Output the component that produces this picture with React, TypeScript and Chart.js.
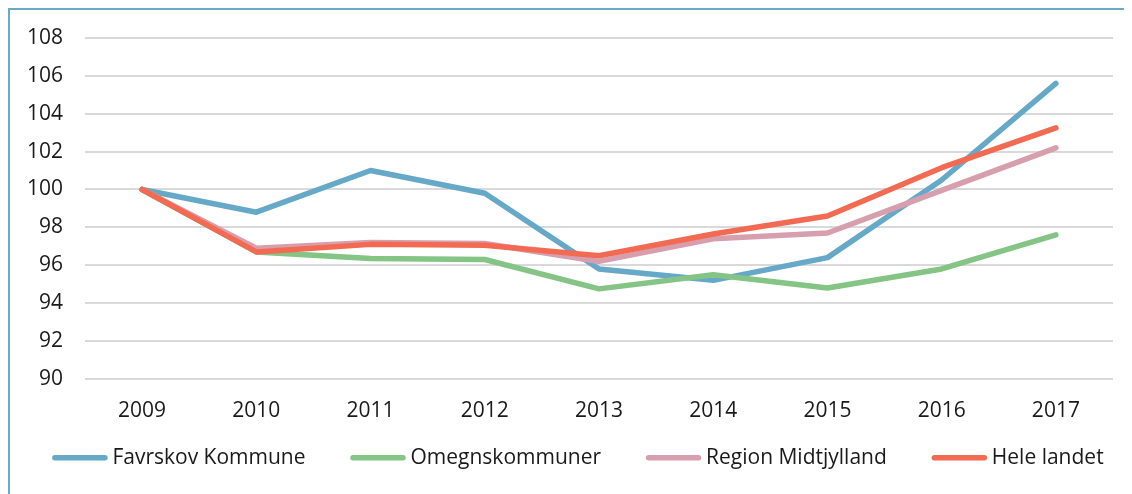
import React, { useEffect, useRef } from "react";
import { Chart, registerables } from "chart.js";

Chart.register(...registerables);

const years = ["2009", "2010", "2011", "2012", "2013", "2014", "2015", "2016", "2017"];
const favrskov = [100, 98.8, 101.0, 99.8, 95.8, 95.2, 96.4, 100.5, 105.6];
const omegn = [100, 96.7, 96.35, 96.3, 94.75, 95.5, 94.8, 95.8, 97.6];
const region = [100, 96.9, 97.2, 97.15, 96.2, 97.4, 97.7, 99.95, 102.2];
const hele = [100, 96.7, 97.1, 97.05, 96.5, 97.65, 98.6, 101.15, 103.25];

const seriesNames = ["Favrskov Kommune", "Omegnskommuner", "Region Midtjylland", "Hele landet"];
const seriesColors = ["#65A8C8", "#84C484", "#D79FAE", "#F26A52"];

const FONT = "'Open Sans'";
const TEXT_COLOR = "#1a1a1a";

const legendPlugin = {
  id: "customLegend",
  afterDraw(chart: any) {
    const ctx = chart.ctx as CanvasRenderingContext2D;
    ctx.save();
    ctx.font = `21px ${FONT}`;
    const sym = 55;
    const gap = 5;
    const spacing = 45;
    const widths = seriesNames.map((n) => ctx.measureText(n).width);
    const total = widths.reduce((a, w) => a + sym + gap + w, 0) + spacing * (seriesNames.length - 1);
    let x = chart.width / 2 - total / 2 + 7;
    const y = chart.chartArea.bottom + 79;
    seriesNames.forEach((name, i) => {
      ctx.strokeStyle = seriesColors[i];
      ctx.lineWidth = 5.5;
      ctx.lineCap = "round";
      ctx.beginPath();
      ctx.moveTo(x + 2.5, y);
      ctx.lineTo(x + sym - 2.5, y);
      ctx.stroke();
      ctx.fillStyle = TEXT_COLOR;
      ctx.textAlign = "left";
      ctx.textBaseline = "middle";
      ctx.fillText(name, x + sym + gap, y);
      x += sym + gap + widths[i] + spacing;
    });
    ctx.restore();
  },
};

export default function App() {
  const ref = useRef<HTMLCanvasElement | null>(null);

  useEffect(() => {
    if (!ref.current) return;
    const values = [favrskov, omegn, region, hele];
    const chart = new Chart(ref.current, {
      type: "line",
      data: {
        labels: years,
        datasets: values.map((v, i) => ({
          label: seriesNames[i],
          data: v,
          borderColor: seriesColors[i],
          backgroundColor: seriesColors[i],
          borderWidth: 5.5,
          pointRadius: 0,
          tension: 0,
          borderCapStyle: "round" as const,
          borderJoinStyle: "round" as const,
          order: 4 - i,
        })),
      },
      options: {
        animation: false,
        responsive: false,
        layout: { padding: { top: 28, right: 19, left: 0, bottom: 50 } },
        plugins: {
          tooltip: { enabled: false },
          legend: { display: false },
        },
        scales: {
          x: {
            offset: true,
            grid: { display: false, drawTicks: false },
            border: { display: false },
            ticks: { padding: 20, color: TEXT_COLOR, font: { family: FONT, size: 21 } },
          },
          y: {
            min: 90,
            max: 108,
            afterFit: (s: any) => {
              s.width = 75;
              s.paddingTop = 0;
              s.paddingBottom = 0;
            },
            grid: { color: "#D9D9D9", lineWidth: 2, drawTicks: false },
            border: { display: false },
            ticks: { stepSize: 2, padding: 22, color: TEXT_COLOR, font: { family: FONT, size: 21 } },
          },
        },
      },
      plugins: [legendPlugin],
    });
    return () => chart.destroy();
  }, []);

  return (
    <div
      style={{
        width: 1124,
        height: 486,
        boxSizing: "border-box",
        borderTop: "2px solid #6AAAC9",
        borderLeft: "2px solid #6AAAC9",
        overflow: "hidden",
      }}
    >
      <canvas ref={ref} width={1122} height={484} style={{ display: "block" }} />
    </div>
  );
}
